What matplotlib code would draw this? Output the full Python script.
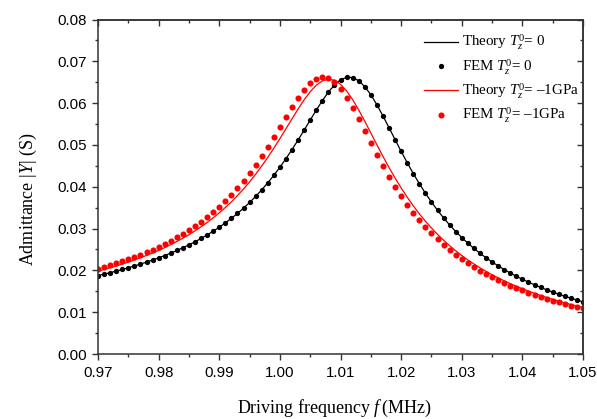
import numpy as np
import matplotlib
matplotlib.use("Agg")
import matplotlib.pyplot as plt
from matplotlib.ticker import MultipleLocator, FormatStrFormatter

plt.rcParams["mathtext.fontset"] = "custom"
plt.rcParams["mathtext.rm"] = "Liberation Serif"
plt.rcParams["mathtext.it"] = "Liberation Serif:italic"

# Driving frequency (MHz), one sample every 0.001 MHz
freq = np.round(np.arange(0.970, 1.0505, 0.001), 3)

# |Y| in 1e-5 S
theory_0 = [
    1877, 1911, 1946, 1984, 2022, 2063, 2106, 2151, 2198, 2248,
    2300, 2356, 2414, 2476, 2542, 2611, 2685, 2764, 2848, 2937,
    3033, 3135, 3245, 3362, 3488, 3624, 3769, 3926, 4094, 4274,
    4467, 4673, 4890, 5119, 5355, 5595, 5833, 6060, 6265, 6435,
    6557, 6618, 6612, 6536, 6395, 6199, 5961, 5694, 5413, 5128,
    4847, 4576, 4317, 4074, 3846, 3634, 3438, 3255, 3086, 2930,
    2785, 2651, 2526, 2410, 2302, 2202, 2108, 2020, 1937, 1860,
    1787, 1719, 1655, 1594, 1536, 1482, 1430, 1381, 1335, 1291,
    1249,
]
fem_0 = theory_0   # FEM points sit on the theory curve

theory_1 = [
    1983, 2022, 2063, 2106, 2151, 2199, 2249, 2302, 2358, 2417,
    2479, 2546, 2616, 2691, 2770, 2855, 2946, 3043, 3146, 3257,
    3376, 3504, 3641, 3789, 3948, 4118, 4300, 4496, 4703, 4923,
    5152, 5388, 5626, 5860, 6080, 6274, 6429, 6533, 6574, 6547,
    6451, 6293, 6084, 5837, 5567, 5286, 5003, 4726, 4461, 4208,
    3971, 3750, 3544, 3353, 3177, 3013, 2861, 2721, 2590, 2469,
    2356, 2251, 2154, 2062, 1977, 1896, 1821, 1750, 1684, 1621,
    1561, 1505, 1452, 1402, 1354, 1309, 1265, 1224, 1185, 1148,
    1112,
]
fem_1 = [
    2034, 2076, 2119, 2165, 2213, 2263, 2317, 2373, 2432, 2495,
    2562, 2633, 2708, 2789, 2874, 2965, 3063, 3167, 3279, 3399,
    3528, 3666, 3815, 3975, 4147, 4331, 4528, 4737, 4958, 5189,
    5427, 5667, 5903, 6125, 6320, 6477, 6582, 6624, 6597, 6500,
    6342, 6131, 5883, 5611, 5328, 5043, 4764, 4497, 4243, 4004,
    3781, 3574, 3381, 3203, 3038, 2886, 2744, 2613, 2491, 2377,
    2271, 2173, 2081, 1994, 1914, 1838, 1766, 1699, 1636, 1576,
    1520, 1466, 1415, 1367, 1321, 1278, 1237, 1197, 1159, 1123,
    1089,
]

labels = [
    r"Theory $T_z^{\mathit{0}}$= 0",
    r"FEM $T_z^{\mathit{0}}$= 0",
    r"Theory $T_z^{\mathit{0}}$= –1GPa",
    r"FEM $T_z^{\mathit{0}}$= –1GPa",
]

SERIF = "Liberation Serif"
SANS = "Liberation Sans"
AX_COL = "#333333"

fig = plt.figure(figsize=(5.97, 4.19), dpi=100)
ax = fig.add_axes([0.1642, 0.1551, 0.8124, 0.7983])

s = lambda v: np.array(v) * 1e-5
ax.plot(freq, s(theory_0), color="black", lw=0.9, label=labels[0])
ax.plot(freq, s(fem_0), "o", color="black", ms=3.8, mew=0, label=labels[1])
ax.plot(freq, s(theory_1), color="#FF0000", lw=0.9, label=labels[2])
ax.plot(freq, s(fem_1), "o", color="#FF0000", ms=4.4, mew=0, label=labels[3])

ax.set_xlim(0.97, 1.05)
ax.set_ylim(0.0, 0.08)
ax.xaxis.set_major_locator(MultipleLocator(0.01))
ax.xaxis.set_minor_locator(MultipleLocator(0.005))
ax.yaxis.set_major_locator(MultipleLocator(0.01))
ax.yaxis.set_minor_locator(MultipleLocator(0.005))
ax.xaxis.set_major_formatter(FormatStrFormatter("%.2f"))
ax.yaxis.set_major_formatter(FormatStrFormatter("%.2f"))

for sp in ax.spines.values():
    sp.set_color(AX_COL)
    sp.set_linewidth(1.1)

ax.tick_params(which="both", direction="out", color=AX_COL, width=1.0,
               top=False, right=False)
ax.tick_params(which="major", length=4.5)
ax.tick_params(which="minor", length=2.5)
ax.tick_params(axis="x", which="major", pad=4)
ax.tick_params(axis="y", which="major", pad=3.5)
for t in ax.get_xticklabels() + ax.get_yticklabels():
    t.set_fontfamily(SANS)
    t.set_fontsize(10.8)

# inward ticks on top and right, no labels
top = ax.secondary_xaxis("top")
right = ax.secondary_yaxis("right")
for sec, axis in ((top, top.xaxis), (right, right.yaxis)):
    axis.set_major_locator(MultipleLocator(0.01))
    axis.set_minor_locator(MultipleLocator(0.005))
    sec.tick_params(which="both", direction="in", color=AX_COL, width=1.0,
                    labeltop=False, labelright=False)
    sec.tick_params(which="major", length=4.5)
    sec.tick_params(which="minor", length=2.5)
    for sp in sec.spines.values():
        sp.set_color(AX_COL)
        sp.set_linewidth(1.1)

ax.set_xlabel(r"Driving frequency $f\,$(MHz)", fontfamily=SERIF, fontsize=13)
ax.set_ylabel(r"Admittance |$Y$| (S)", fontfamily=SERIF, fontsize=13)
ax.xaxis.set_label_coords(0.487, -0.13)
ax.yaxis.set_label_coords(-0.122, 0.462)

leg = ax.legend(loc="upper left", bbox_to_anchor=(0.672, 0.96), frameon=False,
                prop={"family": SERIF, "size": 10.8}, handlelength=2.25,
                handletextpad=0.3, labelspacing=0.33, borderaxespad=0,
                borderpad=0)

fig.savefig("out.png", dpi=100)
